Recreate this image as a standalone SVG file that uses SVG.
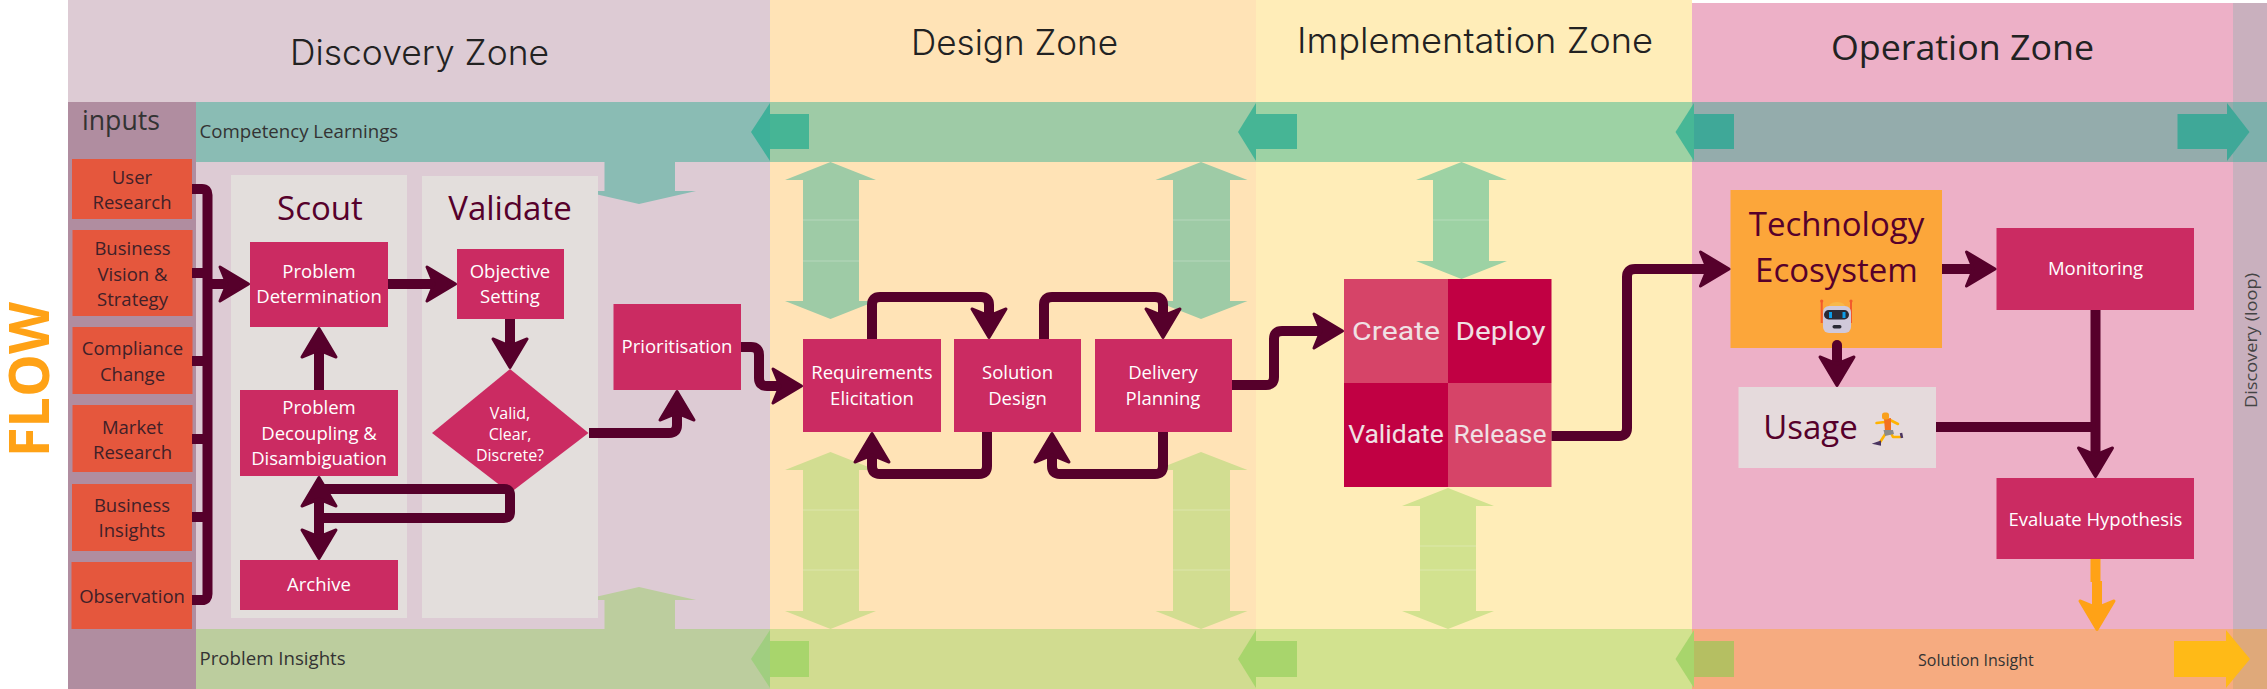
<svg xmlns="http://www.w3.org/2000/svg" width="2267" height="689" viewBox="0 0 2267 689">
<style>
text{font-family:"Open Sans","Noto Sans","Liberation Sans",sans-serif}
.hd{font-size:35px;fill:#222;text-anchor:middle;font-weight:400}
.hg{font-family:"Inter","Liberation Sans",sans-serif;font-weight:300}
.in{font-size:18.5px;fill:#402028;text-anchor:middle}
.nd{font-size:18.5px;fill:#fff;text-anchor:middle}
.sm{font-size:16px}
.bg{font-size:18.67px;fill:#333}
.big{font-size:33px;fill:#56002B;text-anchor:middle}
.gr{font-family:"Roboto","Liberation Sans",sans-serif;font-size:26.5px;fill:#F0E0E4;text-anchor:middle}
.ib{fill:#E5573D}.n{fill:#CB2B62}.pn{fill:#E3DEDC}
.c{fill:none;stroke:#56002B;stroke-width:10;stroke-linejoin:round}
.o{fill:none;stroke:#FFA216;stroke-width:10}
.seam{stroke:#fff;stroke-opacity:.25;stroke-width:1}
</style>
<defs>
<marker id="ah" markerUnits="userSpaceOnUse" viewBox="-22 -22 40 44" refX="0" refY="0" markerWidth="40" markerHeight="44" orient="auto"><path d="M12.5,0L-16,-17L-9,0L-16,17Z" fill="#56002B" stroke="#56002B" stroke-width="3" stroke-linejoin="round"/></marker>
<marker id="ao" markerUnits="userSpaceOnUse" viewBox="-22 -22 40 44" refX="0" refY="0" markerWidth="40" markerHeight="44" orient="auto"><path d="M12.5,0L-16,-17L-9,0L-16,17Z" fill="#FFA216" stroke="#FFA216" stroke-width="3" stroke-linejoin="round"/></marker>
</defs>
<rect width="2267" height="689" fill="#fff"/>
<g id="zones">
<rect x="68" y="0" width="702" height="689" fill="#DDCBD4"/>
<rect x="770" y="0" width="486" height="689" fill="#FFE3B6"/>
<rect x="1256" y="0" width="436" height="689" fill="#FFEDB8"/>
<rect x="1692" y="3" width="541" height="686" fill="#EDB0C7"/>
<rect x="2233" y="3" width="34" height="686" fill="#C9B0BE"/>
<rect x="68" y="102" width="128" height="587" fill="#B08DA0"/>
</g>
<g id="bands">
<rect x="196" y="102" width="574" height="60" fill="#8ABCB4"/>
<rect x="770" y="102" width="486" height="60" fill="#9ECBA6"/>
<rect x="1256" y="102" width="436" height="60" fill="#9DD2A4"/>
<rect x="1692" y="102" width="541" height="60" fill="#94ACAC"/>
<rect x="2233" y="102" width="34" height="60" fill="#7EB0AC"/>
<rect x="196" y="629" width="574" height="60" fill="#BCCD9E"/>
<rect x="770" y="629" width="486" height="60" fill="#D1DC90"/>
<rect x="1256" y="629" width="436" height="60" fill="#D2E28F"/>
<rect x="1692" y="629" width="541" height="60" fill="#F6AB80"/>
<rect x="2233" y="629" width="34" height="60" fill="#DFA97A"/>
</g>
<g id="band-arrows">
<path d="M751,132L770,103V161Z" fill="#3FB09A"/><rect x="770" y="114" width="39" height="35" fill="#46B595"/>
<path d="M1238,132L1256,103V161Z" fill="#46B595"/><rect x="1256" y="114" width="41" height="35" fill="#46B595"/>
<path d="M1675.5,132L1694,103V161Z" fill="#47B796"/><rect x="1694" y="114" width="40" height="35" fill="#3FA898"/>
<path d="M2249.5,132L2227,103V161Z" fill="#3FA898"/><rect x="2177.5" y="114" width="49.5" height="35" fill="#3FA898"/>
<path d="M751,659L770,630V688Z" fill="#A0CE80"/><rect x="770" y="641" width="39" height="36" fill="#A8D56C"/>
<path d="M1238,659L1256,630V688Z" fill="#A8D56C"/><rect x="1256" y="641" width="41" height="36" fill="#A8D56C"/>
<path d="M1675.5,659L1694,630V688Z" fill="#A8D56C"/><rect x="1694" y="641" width="40" height="36" fill="#B5BF62"/>
<path d="M2250,659L2226,630V688Z" fill="#FFBA17"/><rect x="2174" y="641" width="52" height="36" fill="#FFBA17"/>
</g>
<g id="flow-arrows">
<path d="M604.5,162H675V191H696L639,204L582,191H604.5Z" fill="#8ABCB4"/>
<path d="M604.5,629H675V600H696L639,587L582,600H604.5Z" fill="#BCCD9E"/>
<path d="M830.5,162L876,180H859V301H876L830.5,319L785,301H803V180H785Z" fill="#9ECBA6"/>
<path d="M1201,162L1247.5,180H1230V301H1247.5L1201,319L1155.5,301H1173V180H1155.5Z" fill="#9ECBA6"/>
<path d="M1461.5,162L1507,180H1489V261H1507L1461.5,279L1416,261H1433V180H1416Z" fill="#9DD2A4"/>
<path d="M830.5,452L876,470H859V611H876L830.5,629L785,611H803V470H785Z" fill="#D2DD91"/>
<path d="M1201,452L1247.5,470H1230V611H1247.5L1201,629L1155.5,611H1173V470H1155.5Z" fill="#D2DD91"/>
<path d="M1448,488L1494,506H1476V611H1494L1448,629L1402,611H1420V506H1402Z" fill="#D2E28F"/>
<path class="seam" d="M803,220H859M803,261H859M1173,220H1230M1173,261H1230M1433,220H1489M803,510H859M803,570H859M1173,510H1230M1173,570H1230M1420,546H1476M1420,570H1476"/>
</g>
<g id="panels">
<rect class="pn" x="231" y="175" width="176" height="443"/>
<rect class="pn" x="422" y="176" width="176" height="442"/>
</g>
<g id="labels">
<text class="hd hg" x="419.5" y="65" textLength="259" lengthAdjust="spacingAndGlyphs">Discovery Zone</text>
<text class="hd hg" x="1014.5" y="55" textLength="207" lengthAdjust="spacingAndGlyphs">Design Zone</text>
<text class="hd hg" x="1475" y="53" textLength="356" lengthAdjust="spacingAndGlyphs">Implementation Zone</text>
<text class="hd" x="1962.5" y="60" textLength="263" lengthAdjust="spacingAndGlyphs">Operation Zone</text>
<text x="82" y="130" font-size="26.67" fill="#333">inputs</text>
<text class="bg" x="199.5" y="138">Competency Learnings</text>
<text class="bg" x="199.5" y="665">Problem Insights</text>
<text x="1918" y="666" font-size="16" fill="#333">Solution Insight</text>
<text x="49" y="457" transform="rotate(-90 49 457)" font-size="56" font-weight="700" fill="#FFA216" textLength="155" lengthAdjust="spacingAndGlyphs">FLOW</text>
<text x="2257" y="408" transform="rotate(-90 2257 408)" font-size="16.4" fill="#444" textLength="135" lengthAdjust="spacingAndGlyphs">Discovery (loop)</text>
<text class="big" x="320" y="220">Scout</text>
<text class="big" x="510" y="220">Validate</text>
</g>
<g id="in-user"><rect class="ib" x="72" y="159" width="120" height="60"/><text class="in" x="132" y="184">User</text><text class="in" x="132" y="209">Research</text></g>
<g id="in-vision"><rect class="ib" x="72.5" y="230" width="120" height="86"/><text class="in" x="132.5" y="255">Business</text><text class="in" x="132.5" y="281">Vision &amp;</text><text class="in" x="132.5" y="306">Strategy</text></g>
<g id="in-compliance"><rect class="ib" x="72.5" y="327" width="120" height="67"/><text class="in" x="132.5" y="355">Compliance</text><text class="in" x="132.5" y="381">Change</text></g>
<g id="in-market"><rect class="ib" x="72.5" y="405" width="120" height="67"/><text class="in" x="132.5" y="434">Market</text><text class="in" x="132.5" y="459">Research</text></g>
<g id="in-insights"><rect class="ib" x="72" y="484" width="120" height="67"/><text class="in" x="132" y="512">Business</text><text class="in" x="132" y="537">Insights</text></g>
<g id="in-observation"><rect class="ib" x="71.5" y="562" width="120.5" height="67"/><text class="in" x="132" y="603">Observation</text></g>
<g id="problem-determination"><rect class="n" x="250" y="242" width="138" height="85"/><text class="nd" x="319" y="278">Problem</text><text class="nd" x="319" y="303">Determination</text></g>
<g id="objective-setting"><rect class="n" x="457" y="249" width="107" height="70"/><text class="nd" x="510" y="278">Objective</text><text class="nd" x="510" y="303">Setting</text></g>
<g id="prioritisation"><rect class="n" x="613.5" y="304" width="127.5" height="86"/><text class="nd" x="677" y="353">Prioritisation</text></g>
<g id="decoupling"><rect class="n" x="240" y="390" width="158" height="86"/><text class="nd" x="319" y="414">Problem</text><text class="nd" x="319" y="440">Decoupling &amp;</text><text class="nd" x="319" y="465">Disambiguation</text></g>
<g id="archive"><rect class="n" x="240" y="560" width="158" height="50"/><text class="nd" x="319" y="591">Archive</text></g>
<g id="decision"><path class="n" d="M510,369L588.5,433L510,493L432,433Z"/><text class="nd sm" x="510" y="419">Valid,</text><text class="nd sm" x="510" y="440">Clear,</text><text class="nd sm" x="510" y="461">Discrete?</text></g>
<g id="requirements"><rect class="n" x="803" y="339" width="138" height="93"/><text class="nd" x="872" y="379">Requirements</text><text class="nd" x="872" y="405">Elicitation</text></g>
<g id="solution"><rect class="n" x="954" y="339" width="127" height="93"/><text class="nd" x="1017.5" y="379">Solution</text><text class="nd" x="1017.5" y="405">Design</text></g>
<g id="delivery"><rect class="n" x="1095" y="339" width="137" height="93"/><text class="nd" x="1163" y="379">Delivery</text><text class="nd" x="1163" y="405">Planning</text></g>
<g id="grid">
<rect x="1344" y="279" width="104" height="104" fill="#D64468"/><rect x="1448" y="279" width="103.5" height="104" fill="#C10043"/>
<rect x="1344" y="383" width="104" height="104" fill="#C10043"/><rect x="1448" y="383" width="103.5" height="104" fill="#D64468"/>
<text class="gr" x="1396" y="340" textLength="88" lengthAdjust="spacingAndGlyphs">Create</text><text class="gr" x="1500.5" y="340" textLength="90" lengthAdjust="spacingAndGlyphs">Deploy</text>
<text class="gr" x="1396" y="443">Validate</text><text class="gr" x="1500" y="443">Release</text>
</g>
<g id="technology">
<rect x="1730.5" y="190" width="211.5" height="158" fill="#FCA63A"/>
<text class="big" x="1836.5" y="236">Technology</text><text class="big" x="1836.5" y="282">Ecosystem</text>
<path d="M1828,310Q1828,302 1837,302Q1846,302 1846,310Z" fill="#F7B84A"/>
<path d="M1821.7,301V323M1851,301V323" stroke="#F25A2C" stroke-width="2" fill="none"/>
<circle cx="1821.7" cy="301" r="1.6" fill="#F25A2C"/><circle cx="1851" cy="301" r="1.6" fill="#F25A2C"/>
<rect x="1823" y="306" width="28" height="27" rx="6" fill="#D0C9DA"/>
<rect x="1824" y="310" width="25" height="9.5" rx="4.7" fill="#2B2B36"/>
<rect x="1829" y="312" width="3" height="6" fill="#0C9DE8"/><rect x="1842.5" y="312" width="3" height="6" fill="#0C9DE8"/>
<rect x="1832.5" y="325" width="9" height="3.5" rx="1.7" fill="#2B2B36"/>
</g>
<g id="monitoring"><rect class="n" x="1996.5" y="228" width="197.5" height="82"/><text class="nd" x="2095.5" y="275">Monitoring</text></g>
<g id="usage">
<rect x="1738.5" y="387" width="197.5" height="81" fill="#E5DADC"/>
<text class="big" x="1810.5" y="439">Usage</text>
<path d="M1885,422L1876.5,423M1890,420L1898,424M1886,433L1879.5,443M1891,433L1893,437L1900,437" fill="none" stroke="#FFB300" stroke-width="2.6" stroke-linecap="round" stroke-linejoin="round"/>
<path d="M1884,419L1891,418L1891,431L1885,431Z" fill="#F4701E"/>
<path d="M1883.5,430H1893L1894,434L1885,436Z" fill="#8A8A8A"/>
<rect x="1882" y="412.5" width="7" height="7" rx="2.5" fill="#F9A01B"/>
<path d="M1875.5,443.5L1880,442V444.5Z" stroke="#4B3560" stroke-width="2" fill="#4B3560"/>
<path d="M1901,433L1902,438" stroke="#4B3560" stroke-width="2.5"/>
</g>
<g id="evaluate"><rect class="n" x="1996.5" y="478" width="197.5" height="81"/><text class="nd" x="2095.5" y="526">Evaluate Hypothesis</text></g>
<g id="connectors">
<path class="c" d="M192,189H202Q207.5,189 207.5,195V594Q207.5,600 202,600H192"/>
<path class="c" d="M192,273H207.5M192,361H207.5M192,439H207.5M192,517H207.5"/>
<path class="c" d="M207.5,284H236" marker-end="url(#ah)"/>
<path class="c" d="M388,284H443" marker-end="url(#ah)"/>
<path class="c" d="M510,319V355" marker-end="url(#ah)"/>
<path class="c" d="M589,433H669Q677,433 677,425V404" marker-end="url(#ah)"/>
<path class="c" d="M319,390V341" marker-end="url(#ah)"/>
<path class="c" d="M510,498V495Q510,489 504,489H319"/>
<path class="c" d="M319,500V490" marker-end="url(#ah)"/>
<path class="c" d="M510,496V512Q510,518 504,518H319"/>
<path class="c" d="M319,500V546" marker-end="url(#ah)"/>
<path class="c" d="M741,347H751Q759,347 759,355V378Q759,386 767,386H789" marker-end="url(#ah)"/>
<path class="c" d="M872,339V305Q872,297 880,297H981Q989,297 989,305V325" marker-end="url(#ah)"/>
<path class="c" d="M1044,339V305Q1044,297 1052,297H1155Q1163,297 1163,305V325" marker-end="url(#ah)"/>
<path class="c" d="M987,432V466Q987,474 979,474H880Q872,474 872,466V446" marker-end="url(#ah)"/>
<path class="c" d="M1163,432V466Q1163,474 1155,474H1060Q1052,474 1052,466V446" marker-end="url(#ah)"/>
<path class="c" d="M1232,385H1266Q1274,385 1274,377V339Q1274,331 1282,331H1330" marker-end="url(#ah)"/>
<path class="c" d="M1551.5,436H1619Q1627,436 1627,428V277Q1627,269 1635,269H1716.5" marker-end="url(#ah)"/>
<path class="c" d="M1942,269H1982.5" marker-end="url(#ah)"/>
<path class="c" d="M1837,345V373" stroke-linecap="round" marker-end="url(#ah)"/>
<path class="c" d="M2095.5,310V464" marker-end="url(#ah)"/>
<path class="c" d="M1936,427H2095.5"/>
<path class="o" d="M2095.5,559V582"/>
<path class="o" d="M2097,581V617" marker-end="url(#ao)"/>
</g>
</svg>
